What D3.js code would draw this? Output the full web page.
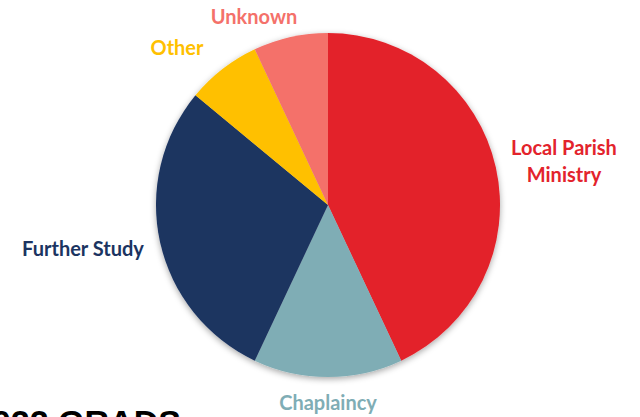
<!DOCTYPE html>
<html><head><meta charset="utf-8">
<script src="https://cdn.jsdelivr.net/npm/d3@7"></script>
<style>html,body{margin:0;padding:0;background:#fff;overflow:hidden}</style>
</head><body>
<svg id="c" width="640" height="417"></svg>
<script>
const categories = ["Local Parish Ministry", "Chaplaincy", "Further Study", "Other", "Unknown"];
const values = [43, 14, 29, 7, 7];
const colors = ["#E3232C", "#7FADB5", "#1B3461", "#FFC000", "#F4716A"];
const labelLines = [["Local Parish", "Ministry"], ["Chaplaincy"], ["Further Study"], ["Other"], ["Unknown"]];
const titleText = "2022 GRADS";

const svg = d3.select("#c");
const cx = 328, cy = 205, r = 172;

const defs = svg.append("defs");
const f = defs.append("filter").attr("id", "sh").attr("x", "-20%").attr("y", "-20%").attr("width", "140%").attr("height", "140%");
f.append("feDropShadow").attr("dx", 0).attr("dy", 2).attr("stdDeviation", 3).attr("flood-color", "#000").attr("flood-opacity", 0.35);

const pie = d3.pie().sort(null).value(d => d)(values);
const arc = d3.arc().innerRadius(0).outerRadius(r);
const g = svg.append("g").attr("transform", `translate(${cx},${cy})`);
g.append("g").attr("filter", "url(#sh)")
  .selectAll("path").data(pie).join("path")
  .attr("d", arc).attr("fill", (d, i) => colors[i]);

// label centre positions (offsets from pie centre, matching the reference layout)
const labelPos = [[236, -43.5], [0, 198], [-245, 44], [-151, -157], [-74, -188]];
const fs = 20, lh = 27;
pie.forEach((d, i) => {
  const [lx, ly] = labelPos[i];
  const lines = labelLines[i];
  const t = g.append("text")
    .attr("text-anchor", "middle")
    .attr("font-family", "Lato, 'Open Sans', sans-serif")
    .attr("font-weight", "bold")
    .attr("font-size", fs)
    .attr("fill", colors[i]);
  lines.forEach((ln, j) => {
    t.append("tspan").attr("x", lx)
      .attr("y", ly + j * lh - (lines.length - 1) * lh / 2)
      .attr("dy", "0.35em").text(ln);
  });
});

svg.append("text").attr("x", -27).attr("y", 434)
  .attr("font-family", "'Liberation Sans', Arial, sans-serif")
  .attr("font-weight", "bold").attr("font-size", 34).attr("fill", "#000")
  .text(titleText);
</script>
</body></html>
